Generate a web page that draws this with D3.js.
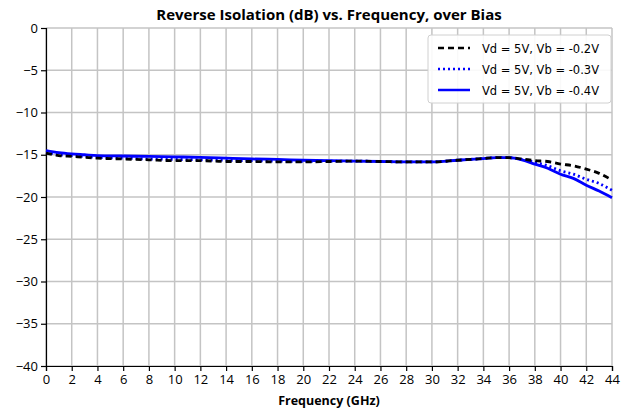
<!DOCTYPE html>
<html>
<head>
<meta charset="utf-8">
<script src="https://cdn.jsdelivr.net/npm/d3@7"></script>
<style>
  body { margin: 0; background: #fff; }
  svg { display: block; }
</style>
</head>
<body>
<div id="svg-container"></div>
<script>
// frequency points (GHz)
var freqs = [0, 1, 2, 3, 4, 6, 8, 10, 12, 14, 16, 18, 20, 22, 24, 26, 28, 30, 32, 34, 35, 36, 37, 38, 39, 40, 41, 42, 43, 44];

// reverse isolation (dB) per bias
var vb02 = [-14.8, -15.1, -15.2, -15.3, -15.4, -15.5, -15.6, -15.7, -15.7, -15.8, -15.8, -15.85, -15.85, -15.8, -15.75, -15.8, -15.85, -15.85, -15.65, -15.45, -15.35, -15.35, -15.5, -15.7, -15.8, -16.1, -16.3, -16.7, -17.2, -18.0];
var vb03 = [-14.7, -15.0, -15.1, -15.2, -15.3, -15.4, -15.5, -15.55, -15.6, -15.65, -15.7, -15.75, -15.8, -15.75, -15.75, -15.8, -15.85, -15.85, -15.65, -15.45, -15.35, -15.35, -15.55, -15.9, -16.3, -16.9, -17.3, -17.9, -18.4, -19.2];
var vb04 = [-14.5, -14.75, -14.9, -15.0, -15.1, -15.15, -15.2, -15.25, -15.3, -15.4, -15.5, -15.55, -15.65, -15.7, -15.75, -15.8, -15.85, -15.85, -15.65, -15.45, -15.35, -15.35, -15.6, -16.1, -16.6, -17.3, -17.8, -18.6, -19.3, -20.1];

var seriesNames = ["Vd = 5V, Vb = -0.2V", "Vd = 5V, Vb = -0.3V", "Vd = 5V, Vb = -0.4V"];

var xTicks = d3.range(0, 45, 2);
var yTicks = d3.range(-40, 1, 5);

var width = 631, height = 413;
var margin = { top: 28, right: 19, bottom: 47, left: 46 };
var plotW = width - margin.left - margin.right;
var plotH = height - margin.top - margin.bottom;

var x = d3.scaleLinear().domain([0, 44]).range([0, plotW]);
var y = d3.scaleLinear().domain([-40, 0]).range([plotH, 0]);

var svg = d3.select("#svg-container").append("svg")
    .attr("width", width)
    .attr("height", height);

// title
svg.append("text")
    .attr("x", margin.left + plotW / 2)
    .attr("y", 20)
    .attr("text-anchor", "middle")
    .attr("font-family", "'Open Sans', sans-serif")
    .attr("font-weight", "bold")
    .attr("font-size", 15)
    .text("Reverse Isolation (dB) vs. Frequency, over Bias");

var g = svg.append("g")
    .attr("transform", "translate(" + margin.left + "," + margin.top + ")");

// grid
g.append("g").selectAll("line")
  .data(xTicks)
  .enter().append("line")
    .attr("x1", function(d) { return x(d); })
    .attr("x2", function(d) { return x(d); })
    .attr("y1", 0)
    .attr("y2", plotH)
    .attr("stroke", "#c4c4c4")
    .attr("stroke-width", 1.5);

g.append("g").selectAll("line")
  .data(yTicks)
  .enter().append("line")
    .attr("x1", 0)
    .attr("x2", plotW)
    .attr("y1", function(d) { return y(d); })
    .attr("y2", function(d) { return y(d); })
    .attr("stroke", "#c4c4c4")
    .attr("stroke-width", 1.5);

// axes
var xAxis = d3.axisBottom(x).tickValues(xTicks).tickSize(5).tickPadding(4)
    .tickFormat(d3.format("d"));
var yAxis = d3.axisLeft(y).tickValues(yTicks).tickSize(5).tickPadding(3)
    .tickFormat(function(d) { return d < 0 ? "\u2212" + Math.abs(d) : d; });

var gx = g.append("g")
    .attr("transform", "translate(0," + plotH + ")")
    .call(xAxis);
var gy = g.append("g").call(yAxis);

[gx, gy].forEach(function(a) {
  a.select(".domain").attr("stroke", "#000").attr("stroke-width", 1.2);
  a.selectAll(".tick line").attr("stroke", "#000").attr("stroke-width", 1.2);
  a.selectAll("text")
    .attr("font-family", "'Open Sans', sans-serif")
    .attr("font-size", 13)
    .attr("fill", "#000");
});

// x label
svg.append("text")
    .attr("x", margin.left + plotW / 2)
    .attr("y", 405)
    .attr("text-anchor", "middle")
    .attr("font-family", "'Open Sans', sans-serif")
    .attr("font-weight", "bold")
    .attr("font-size", 12.5)
    .text("Frequency (GHz)");

// curves
var series = [
  { name: seriesNames[0], values: vb02, color: "#000000", dash: "6,4" },
  { name: seriesNames[1], values: vb03, color: "#0000ff", dash: "2,3" },
  { name: seriesNames[2], values: vb04, color: "#0000ff", dash: null }
];

var line = d3.line()
    .x(function(d) { return x(d[0]); })
    .y(function(d) { return y(d[1]); })
    .curve(d3.curveMonotoneX);

var drawOrder = [2, 1, 0];
drawOrder.forEach(function(i) {
  var s = series[i];
  g.append("path")
    .datum(freqs.map(function(f, j) { return [f, s.values[j]]; }))
    .attr("fill", "none")
    .attr("stroke", s.color)
    .attr("stroke-width", 2.8)
    .attr("stroke-dasharray", s.dash)
    .attr("d", line);
});

// legend
var legend = svg.append("g").attr("transform", "translate(428,35)");
legend.append("rect")
    .attr("width", 183)
    .attr("height", 68)
    .attr("rx", 3)
    .attr("fill", "#fff")
    .attr("fill-opacity", 0.9)
    .attr("stroke", "#d0d0d0");

series.forEach(function(s, i) {
  var ly = 13 + i * 21;
  legend.append("line")
    .attr("x1", 10).attr("x2", 42)
    .attr("y1", ly).attr("y2", ly)
    .attr("stroke", s.color)
    .attr("stroke-width", 2.5)
    .attr("stroke-dasharray", s.dash);
  legend.append("text")
    .attr("x", 54)
    .attr("y", ly + 5)
    .attr("font-family", "'DejaVu Sans', sans-serif")
    .attr("font-size", 11.5)
    .text(s.name);
});
</script>
</body>
</html>
